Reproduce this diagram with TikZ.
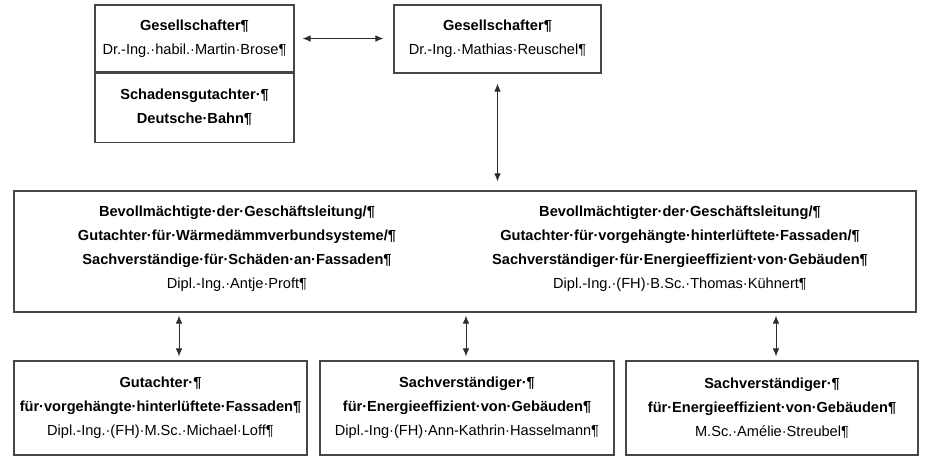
\documentclass[tikz,border=0pt]{standalone}
\usepackage{fontspec}
\setmainfont{Liberation Sans}
\usepackage{tikz}
\usetikzlibrary{arrows.meta,positioning}
\definecolor{framegray}{RGB}{70,70,70}
\definecolor{arrowgray}{RGB}{45,45,45}

\begin{document}
\begin{tikzpicture}[
  x=1pt, y=-1pt,
  box/.style={rectangle, draw=framegray, line width=1.1pt, inner sep=0pt,
              font={\fontsize{14.6}{24}\selectfont}, align=center},
  txt/.style={inner sep=0pt, font={\fontsize{14.6}{24}\selectfont}, align=center},
  biarrow/.style={{Latex[length=8pt,width=6.5pt]}-{Latex[length=8pt,width=6.5pt]},
                  line width=0.9pt, arrowgray}
]
\useasboundingbox (0,0) rectangle (926,464);

% partners
\node[box, minimum width=199pt, minimum height=67pt] (brose) at (194.5,38.5)
  {\textbf{Gesellschafter¶}\\Dr.-Ing.·habil.·Martin·Brose¶};
\node[box, minimum width=199pt, minimum height=69pt, below=0pt of brose] (bahn)
  {\textbf{Schadensgutachter·¶}\\\textbf{Deutsche·Bahn¶}};
\node[box, minimum width=207pt, minimum height=68pt] (reuschel) at (497.5,39)
  {\textbf{Gesellschafter¶}\\Dr.-Ing.·Mathias·Reuschel¶};

% management
\node[box, minimum width=902pt, minimum height=121pt] (lead) at (465,251.5) {};
\node[txt] (proft) at (237,249)
  {\textbf{Bevollmächtigte·der·Geschäftsleitung/¶}\\
   \textbf{Gutachter·für·Wärmedämmverbundsysteme/¶}\\
   \textbf{Sachverständige·für·Schäden·an·Fassaden¶}\\
   Dipl.-Ing.·Antje·Proft¶};
\node[txt] (kuehnert) at (680,249)
  {\textbf{Bevollmächtigter·der·Geschäftsleitung/¶}\\
   \textbf{Gutachter·für·vorgehängte·hinterlüftete·Fassaden/¶}\\
   \textbf{Sachverständiger·für·Energieeffizient·von·Gebäuden¶}\\
   Dipl.-Ing.·(FH)·B.Sc.·Thomas·Kühnert¶};

% experts
\node[box, minimum width=293pt, minimum height=94pt] (loff) at (160.5,408)
  {\textbf{Gutachter·¶}\\
   \textbf{für·vorgehängte·hinterlüftete·Fassaden¶}\\
   Dipl.-Ing.·(FH)·M.Sc.·Michael·Loff¶};
\node[box, minimum width=294pt, minimum height=94pt] (hassel) at (467,408)
  {\textbf{Sachverständiger·¶}\\
   \textbf{für·Energieeffizient·von·Gebäuden¶}\\
   Dipl.-Ing·(FH)·Ann-Kathrin·Hasselmann¶};
\node[box, minimum width=292pt, minimum height=94pt] (streubel) at (772,408)
  {\textbf{Sachverständiger·¶}\\
   \textbf{für·Energieeffizient·von·Gebäuden¶}\\
   M.Sc.·Amélie·Streubel¶};

\draw[biarrow, shorten <=8pt, shorten >=10pt] (brose.east) -- (reuschel.west |- brose.east);
\draw[biarrow, shorten <=10pt, shorten >=9pt] (reuschel.south) -- (reuschel.south |- lead.north);
\draw[biarrow, shorten <=3pt, shorten >=4pt] (lead.south -| 179,0) -- (loff.north -| 179,0);
\draw[biarrow, shorten <=3pt, shorten >=4pt] (lead.south -| 466,0) -- (hassel.north -| 466,0);
\draw[biarrow, shorten <=3pt, shorten >=4pt] (lead.south -| 776,0) -- (streubel.north -| 776,0);
\end{tikzpicture}
\end{document}
